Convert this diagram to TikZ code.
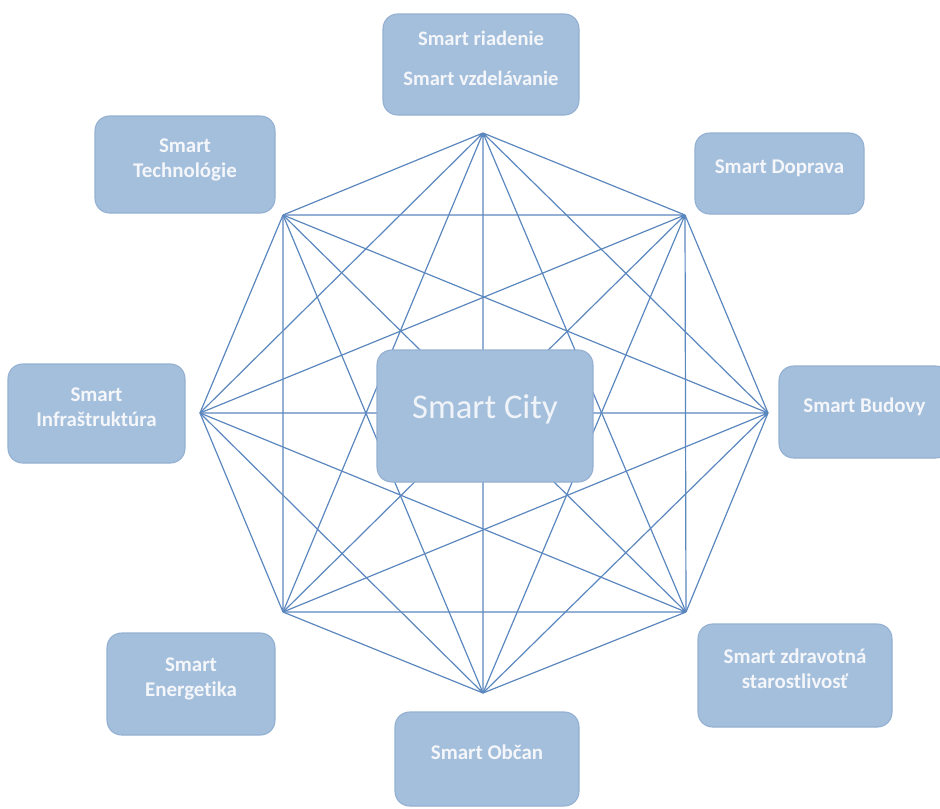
\documentclass[tikz,border=0pt]{standalone}
\usepackage{fontspec}
\setmainfont{Carlito}[Ligatures=NoCommon]
\definecolor{boxfill}{HTML}{A4BFDC}
\definecolor{boxline}{HTML}{93B0D2}
\definecolor{edgeblue}{HTML}{5B87BF}
\definecolor{boxtext}{HTML}{F4F6FA}
\tikzset{
  sbox/.style={rectangle,rounded corners=11pt,fill=boxfill,draw=boxline,line width=.8pt,
    inner sep=0pt,align=center,text=boxtext,text depth=10pt,
    font=\bfseries\fontsize{15.7}{18.75}\selectfont},
  edge/.style={edgeblue,line width=.9pt}
}
\begin{document}
\begin{tikzpicture}
  [x=.75pt,y=-.75pt]
  \useasboundingbox (0,0) rectangle (940,808);

  % octagon corners
  \coordinate (v1) at (483,133);
  \coordinate (v2) at (685,215);
  \coordinate (v3) at (768,413);
  \coordinate (v4) at (686,612);
  \coordinate (v5) at (483,693);
  \coordinate (v6) at (283,612);
  \coordinate (v7) at (200,413);
  \coordinate (v8) at (283,215);

  \draw[edge] (v1) -- (v2) (v1) -- (v3) (v1) -- (v4) (v1) -- (v5) (v1) -- (v6) (v1) -- (v7) (v1) -- (v8);
  \draw[edge] (v2) -- (v3) (v2) -- (v4) (v2) -- (v5) (v2) -- (v6) (v2) -- (v7) (v2) -- (v8);
  \draw[edge] (v3) -- (v4) (v3) -- (v5) (v3) -- (v6) (v3) -- (v7) (v3) -- (v8);
  \draw[edge] (v4) -- (v5) (v4) -- (v6) (v4) -- (v7) (v4) -- (v8);
  \draw[edge] (v5) -- (v6) (v5) -- (v7) (v5) -- (v8);
  \draw[edge] (v6) -- (v7) (v6) -- (v8);
  \draw[edge] (v7) -- (v8);

  \node[sbox,minimum width=162pt,minimum height=99pt,text depth=14pt,
    font=\fontsize{26}{30}\selectfont,text=white!86!boxline]
    (city) at (485,416) {Smart City};

  \node[sbox,minimum width=147pt,minimum height=75.75pt,font=\bfseries\fontsize{15.4}{30}\selectfont]
    (riadenie) at (481,64.5) {Smart riadenie\\Smart vzdelávanie};
  \node[sbox,minimum width=126.75pt,minimum height=60.75pt] (doprava) at (779.5,173.5) {Smart Doprava};
  \node[sbox,minimum width=128.25pt,minimum height=69pt] (budovy) at (864.5,412) {Smart Budovy};
  \node[sbox,minimum width=145.5pt,minimum height=77.25pt] (zdravie) at (795,675.5) {Smart zdravotná\\starostlivosť};
  \node[sbox,minimum width=138pt,minimum height=70.5pt] (obcan) at (487,759) {Smart Občan};
  \node[sbox,minimum width=126pt,minimum height=76.5pt] (energetika) at (191,684) {Smart\\Energetika};
  \node[sbox,minimum width=132.75pt,minimum height=74.25pt] (infra) at (96.5,413.5) {Smart\\Infraštruktúra};
  \node[sbox,minimum width=135pt,minimum height=72.75pt] (tech) at (185,164.5) {Smart\\Technológie};
\end{tikzpicture}
\end{document}
